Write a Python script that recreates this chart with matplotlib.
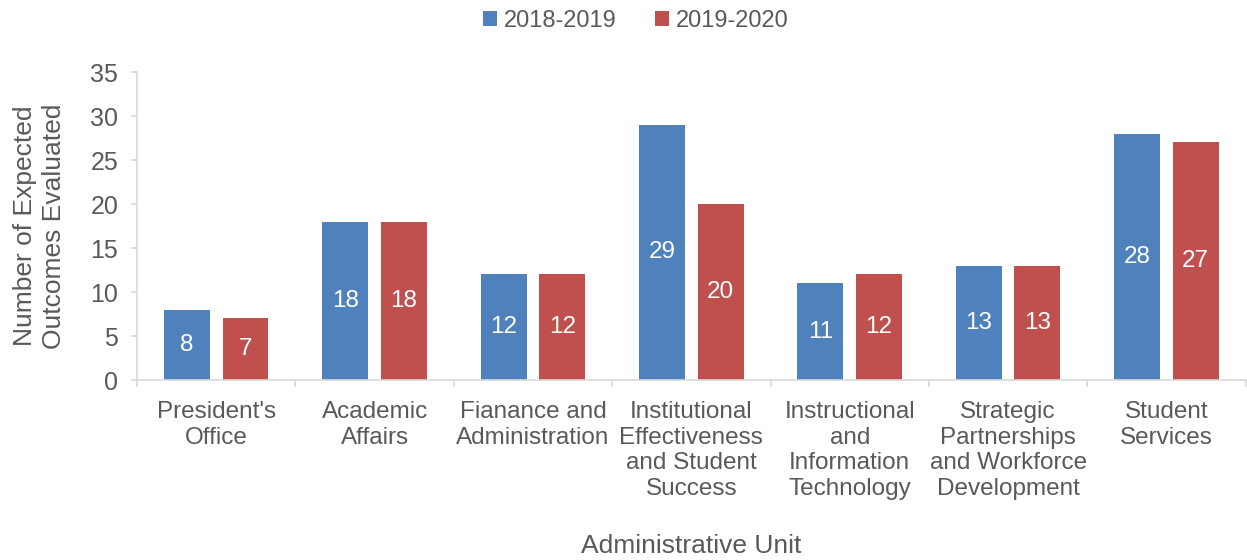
import numpy as np
import matplotlib.pyplot as plt
from matplotlib.ticker import FixedLocator

plt.rcParams['font.family'] = ['Liberation Sans', 'DejaVu Sans']

# data
units = ["President's\nOffice", 'Academic\nAffairs', 'Fianance and\nAdministration',
         'Institutional\nEffectiveness\nand Student\nSuccess',
         'Instructional\nand\nInformation\nTechnology',
         'Strategic\nPartnerships\nand Workforce\nDevelopment',
         'Student\nServices']
y2018 = [8, 18, 12, 29, 11, 13, 28]
y2019 = [7, 18, 12, 20, 12, 13, 27]

blue = '#4f81bd'
red = '#c0504d'
grey = '#595959'
axis_col = '#d9d9d9'

fig = plt.figure(figsize=(12.47, 5.6), dpi=100)
ax = fig.add_axes([0.1099, 0.3214, 0.889, 0.55])

x = np.arange(len(units))
w = 0.29
off = 0.185
b1 = ax.bar(x - off, y2018, w, color=blue, label='2018-2019')
b2 = ax.bar(x + off, y2019, w, color=red, label='2019-2020')

for bars in (b1, b2):
    ax.bar_label(bars, label_type='center', color='white', fontsize=17.5)

ax.set_xlim(-0.5, len(units) - 0.5)
ax.set_ylim(0, 35)
ax.set_yticks(range(0, 36, 5))
ax.set_xticks(x)
ax.set_xticklabels(units, fontsize=17.5, color=grey, linespacing=1.22)
ax.tick_params(axis='x', length=0, pad=15)
ax.xaxis.set_minor_locator(FixedLocator(np.arange(-0.5, len(units), 1.0)))
ax.tick_params(axis='x', which='minor', length=5, color=axis_col, width=1.2)
ax.tick_params(axis='y', labelsize=18, labelcolor=grey, length=4.5, color=axis_col, width=1.2, pad=9)

for s in ['top', 'right']:
    ax.spines[s].set_visible(False)
for s in ['left', 'bottom']:
    ax.spines[s].set_color(axis_col)
    ax.spines[s].set_linewidth(1.2)

ax.set_ylabel('Number of Expected\nOutcomes Evaluated', fontsize=19, color=grey, linespacing=1.25)
ax.yaxis.set_label_coords(-0.064, 0.5)
ax.set_xlabel('Administrative Unit', fontsize=19, color=grey)
ax.xaxis.set_label_coords(0.5, -0.5)

# legend sits over the whole figure, not just the plot area
fig.legend(handles=[b1, b2], loc='center', bbox_to_anchor=(0.51, 0.963), ncol=2, frameon=False,
           fontsize=17, labelcolor=grey, handlelength=0.6, handleheight=0.6,
           handletextpad=0.3, columnspacing=1.6)

fig.savefig('out.png', dpi=100)
